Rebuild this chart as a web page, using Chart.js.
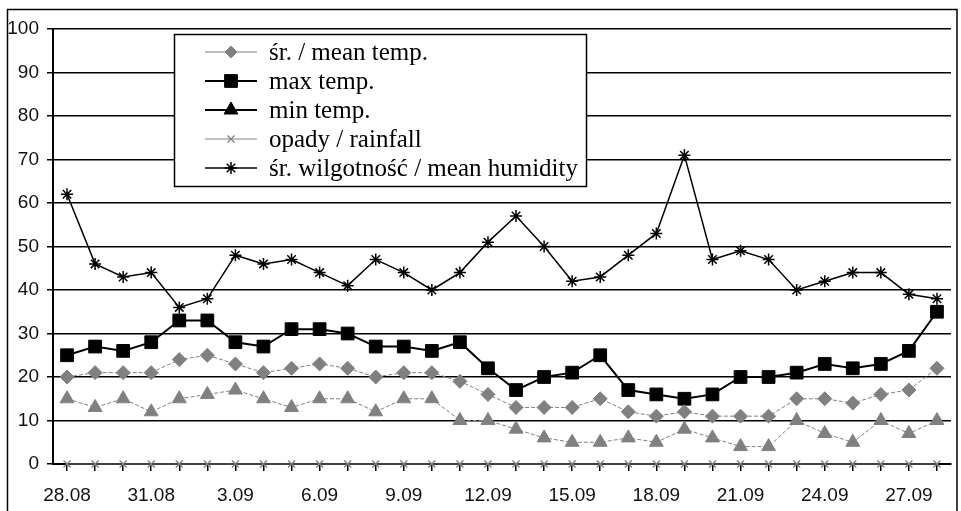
<!DOCTYPE html>
<html>
<head>
<meta charset="utf-8">
<script src="https://cdn.jsdelivr.net/npm/chart.js@4.4.1/dist/chart.umd.min.js"></script>
<style>
    html, body { margin: 0; padding: 0; background: #fff; }
    #wrap { position: relative; width: 961px; height: 511px; }
</style>
</head>
<body>
<div id="wrap"><canvas id="weatherChart"></canvas></div>
<script>
// days 28.08 - 28.09
const days = ["28.08", "29.08", "30.08", "31.08", "1.09", "2.09", "3.09", "4.09", "5.09", "6.09",
    "7.09", "8.09", "9.09", "10.09", "11.09", "12.09", "13.09", "14.09", "15.09", "16.09",
    "17.09", "18.09", "19.09", "20.09", "21.09", "22.09", "23.09", "24.09", "25.09", "26.09",
    "27.09", "28.09"];

const meanTemp = [20, 21, 21, 21, 24, 25, 23, 21, 22, 23, 22, 20, 21, 21, 19, 16,
    13, 13, 13, 15, 12, 11, 12, 11, 11, 11, 15, 15, 14, 16, 17, 22];
const maxTemp = [25, 27, 26, 28, 33, 33, 28, 27, 31, 31, 30, 27, 27, 26, 28, 22,
    17, 20, 21, 25, 17, 16, 15, 16, 20, 20, 21, 23, 22, 23, 26, 35];
const minTemp = [15, 13, 15, 12, 15, 16, 17, 15, 13, 15, 15, 12, 15, 15, 10, 10,
    8, 6, 5, 5, 6, 5, 8, 6, 4, 4, 10, 7, 5, 10, 7, 10];
const rainfall = [0, 0, 0, 0, 0, 0, 0, 0, 0, 0, 0, 0, 0, 0, 0, 0,
    0, 0, 0, 0, 0, 0, 0, 0, 0, 0, 0, 0, 0, 0, 0, 0];
const meanHumidity = [62, 46, 43, 44, 36, 38, 48, 46, 47, 44, 41, 47, 44, 40, 44, 51,
    57, 50, 42, 43, 48, 53, 71, 47, 49, 47, 40, 42, 44, 44, 39, 38];

const yTicks = [0, 10, 20, 30, 40, 50, 60, 70, 80, 90, 100];

const tickFont = { family: "'Liberation Sans Narrow', 'Liberation Sans', sans-serif", size: 19 };

// legend box drawn inside the plot, plus the outer frame
const framePlugin = {
    id: 'frameAndLegend',
    afterDraw(chart) {
        const c = chart.ctx;
        c.save();
        c.strokeStyle = '#000';
        c.lineWidth = 1.5;
        c.strokeRect(7.5, 9.5, 949.5, 520);

        const box = { x: 174.5, y: 34.5, w: 412, h: 152 };
        c.fillStyle = '#fff';
        c.fillRect(box.x, box.y, box.w, box.h);
        c.strokeRect(box.x, box.y, box.w, box.h);

        c.font = "25px 'Liberation Serif', 'Times New Roman', serif";
        c.textBaseline = 'middle';
        chart.data.datasets.forEach((ds, i) => {
            const y = 52 + i * 29;
            const col = ds.legendColor || ds.borderColor;
            c.strokeStyle = col;
            c.lineWidth = ds.legendLine || ds.borderWidth;
            c.setLineDash([]);
            c.beginPath();
            c.moveTo(205, y);
            c.lineTo(257, y);
            c.stroke();
            c.fillStyle = col;
            c.strokeStyle = col;
            c.lineWidth = ds.pointBorderWidth || 1;
            Chart.helpers.drawPoint(c, {
                pointStyle: ds.pointStyle,
                radius: ds.legendRadius || ds.pointRadius,
                rotation: 0,
                borderWidth: ds.pointBorderWidth || 1
            }, 231, y);
            c.fillStyle = '#000';
            c.fillText(ds.label, 269, y + 1);
        });
        c.restore();
    }
};

const ctx = document.getElementById('weatherChart').getContext('2d');
const chart = new Chart(ctx, {
    type: 'line',
    data: {
        labels: days,
        datasets: [
            {
                label: 'śr. / mean temp.',
                data: meanTemp,
                borderColor: '#808080',
                backgroundColor: '#808080',
                borderWidth: 1,
                borderDash: [4, 2],
                legendLine: 1,
                pointStyle: 'rectRot',
                pointRadius: 7,
                legendRadius: 6,
                pointBorderWidth: 1
            },
            {
                label: 'max temp.',
                data: maxTemp,
                borderColor: '#000',
                backgroundColor: '#000',
                borderWidth: 2,
                pointStyle: 'rect',
                pointRadius: 9,
                legendRadius: 9,
                pointBorderWidth: 1
            },
            {
                label: 'min temp.',
                data: minTemp,
                borderColor: '#808080',
                backgroundColor: '#808080',
                borderWidth: 1,
                borderDash: [4, 2],
                legendColor: '#000',
                legendLine: 2,
                pointStyle: 'triangle',
                pointRadius: 8,
                legendRadius: 8,
                pointBorderWidth: 1
            },
            {
                label: 'opady / rainfall',
                data: rainfall,
                borderColor: '#808080',
                backgroundColor: '#808080',
                borderWidth: 1,
                pointStyle: 'crossRot',
                pointRadius: 5,
                legendRadius: 5,
                pointBorderWidth: 1.3,
                clip: false
            },
            {
                label: 'śr. wilgotność / mean humidity',
                data: meanHumidity,
                borderColor: '#000',
                backgroundColor: '#000',
                borderWidth: 1.5,
                pointStyle: 'star',
                pointRadius: 6,
                legendRadius: 6,
                pointBorderWidth: 1.5
            }
        ]
    },
    options: {
        responsive: true,
        maintainAspectRatio: false,
        animation: false,
        layout: { padding: { left: 0, top: 29, right: 4, bottom: 0 } },
        plugins: {
            legend: { display: false },
            tooltip: { enabled: false }
        },
        elements: { line: { tension: 0 } },
        scales: {
            x: {
                offset: true,
                grid: {
                    drawOnChartArea: false,
                    drawTicks: true,
                    tickLength: 7,
                    color: '#000',
                    lineWidth: 1.5
                },
                border: { display: true, color: '#000', width: 2 },
                ticks: {
                    autoSkip: false,
                    maxRotation: 0,
                    padding: 13,
                    color: '#111',
                    font: tickFont,
                    callback: function (val, idx) {
                        return idx % 3 === 0 ? days[idx] : '';
                    }
                },
                afterFit(scale) { scale.height = 47; }
            },
            y: {
                min: 0,
                max: 100,
                afterBuildTicks(scale) { scale.ticks = yTicks.map(v => ({ value: v })); },
                grid: {
                    color: '#000',
                    lineWidth: 1.5,
                    tickLength: 6
                },
                border: { display: true, color: '#000', width: 2 },
                ticks: {
                    padding: 8,
                    color: '#111',
                    font: tickFont
                },
                afterFit(scale) { scale.width = 53; }
            }
        }
    },
    plugins: [framePlugin]
});
</script>
</body>
</html>
